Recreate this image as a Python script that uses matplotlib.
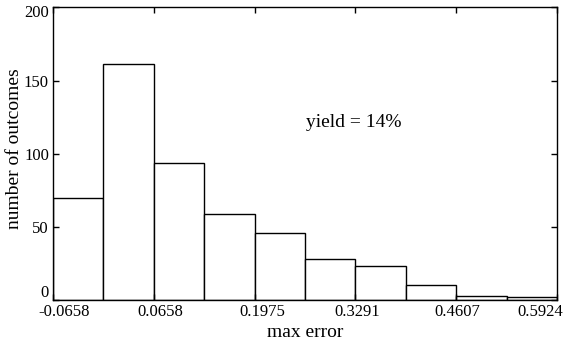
import numpy as np
import matplotlib.pyplot as plt
import matplotlib.transforms as mtransforms

# -- histogram data
bin_width = 0.0658
bin_left  = -0.0658
counts    = [70, 161, 94, 59, 46, 28, 23, 10, 3, 2]
xticks    = [-0.0658, 0.0658, 0.1975, 0.3291, 0.4607, 0.5924]
xticklabels = ["-0.0658", "0.0658", "0.1975", "0.3291", "0.4607", "0.5924"]
yticks    = [0, 50, 100, 150, 200]

plt.rcParams['font.family'] = ['Liberation Serif', 'DejaVu Serif']
plt.rcParams['font.size'] = 12

fig = plt.figure(figsize=(5.65, 3.49), dpi=100)
ax = fig.add_axes([0.094, 0.140, 0.892, 0.839])

edges = bin_left + bin_width * np.arange(len(counts))
ax.bar(edges, counts, width=bin_width, align='edge',
       facecolor='white', edgecolor='black', linewidth=1.0)

ax.set_xlim(xticks[0], xticks[-1])
ax.set_ylim(0, 200)
ax.set_xticks(xticks)
ax.set_xticklabels(xticklabels)
ax.set_yticks(yticks)
ax.tick_params(direction='in', top=True, right=True, length=4, width=1, pad=3)
for s in ax.spines.values():
    s.set_linewidth(1.0)

# -- nudge tick labels like the original (pixel offsets)
xoff = [11, 6, 8, 2, 1, -17]
for lab, dx in zip(ax.get_xticklabels(), xoff):
    lab.set_transform(lab.get_transform() +
                      mtransforms.ScaledTranslation(dx / 100, 0, fig.dpi_scale_trans))
yoff = {0: 9, 4: -4}
ylabs = ax.get_yticklabels()
for i, dy in yoff.items():
    ylabs[i].set_transform(ylabs[i].get_transform() +
                           mtransforms.ScaledTranslation(0, dy / 100, fig.dpi_scale_trans))

ax.set_xlabel("max error", fontsize=14, labelpad=3)
ax.set_ylabel("number of outcomes", fontsize=14, labelpad=1)
ax.yaxis.label.set_y(0.516)
ax.text(0.327, 121, "yield = 14%", fontsize=14, ha='center', va='center')

fig.savefig("out.png", dpi=100)
